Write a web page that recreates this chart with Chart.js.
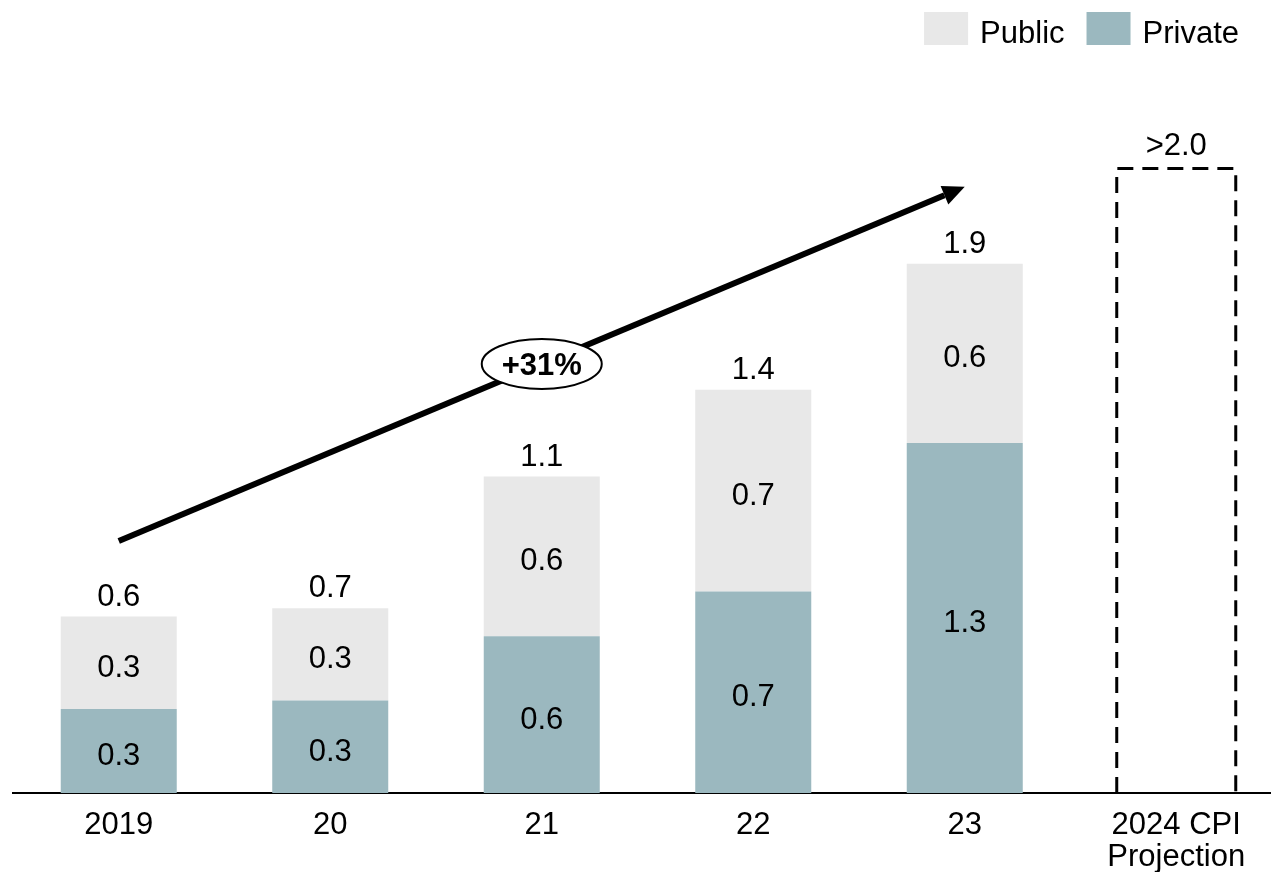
<!DOCTYPE html>
<html>
<head>
<meta charset="utf-8">
<script src="https://cdn.jsdelivr.net/npm/chart.js@4/dist/chart.umd.min.js"></script>
<style>
  body { margin: 0; background: #fff; overflow: hidden; }
  #wrap { width: 1271px; height: 872px; overflow: hidden; }
</style>
</head>
<body>
<div id="wrap"><canvas id="chart" width="1300" height="872"></canvas></div>
<script>
const categories = ['2019', '20', '21', '22', '23', ['2024 CPI', 'Projection']];
const privateValues = [0.30, 0.33, 0.56, 0.72, 1.25, null];
const publicValues = [0.33, 0.33, 0.57, 0.72, 0.64, null];
const projectionValues = [null, null, null, null, null, 2.23];
const projectionLabel = '>2.0';

// growth arrow: [category index, value] at each end
const growthLabel = '+31%';
const growthFrom = [0, 0.9];
const growthTo = [4, 2.165];

const FONT = '"Liberation Sans", Arial, sans-serif';
const PRIVATE_COLOR = '#9bb8bf';
const PUBLIC_COLOR = '#e8e8e8';

// Value labels, dashed projection box, growth arrow and legend
const overlayPlugin = {
  id: 'overlay',
  afterDatasetsDraw(chart) {
    const ctx = chart.ctx;
    const x = chart.scales.x;
    const y = chart.scales.y;
    const privMeta = chart.getDatasetMeta(0);
    const pubMeta = chart.getDatasetMeta(1);
    const projMeta = chart.getDatasetMeta(2);

    ctx.save();
    ctx.fillStyle = '#000';
    ctx.textAlign = 'center';
    ctx.textBaseline = 'alphabetic';
    ctx.font = '31px ' + FONT;

    // segment labels and totals
    categories.forEach((cat, i) => {
      if (privateValues[i] == null) return;
      const pe = privMeta.data[i];
      const ue = pubMeta.data[i];
      ctx.fillText(privateValues[i].toFixed(1), pe.x, (pe.y + pe.base) / 2 + 14);
      ctx.fillText(publicValues[i].toFixed(1), ue.x, (ue.y + ue.base) / 2 + 14);
      const total = privateValues[i] + publicValues[i];
      ctx.fillText(total.toFixed(1), ue.x, ue.y - 22 + 11);
    });

    // dashed projection box
    const be = projMeta.data[5];
    const left = be.x - be.width / 2 - 1.5;
    const right = be.x + be.width / 2 + 1.5;
    ctx.beginPath();
    ctx.setLineDash([16, 9]);
    ctx.lineWidth = 3;
    ctx.strokeStyle = '#000';
    ctx.moveTo(left, be.base);
    ctx.lineTo(left, be.y);
    ctx.lineTo(right, be.y);
    ctx.lineTo(right, be.base);
    ctx.stroke();
    ctx.setLineDash([]);
    ctx.fillText(projectionLabel, be.x, be.y - 25 + 11);

    // growth arrow
    const x0 = x.getPixelForValue(growthFrom[0]);
    const y0 = y.getPixelForValue(growthFrom[1]);
    const x1 = x.getPixelForValue(growthTo[0]);
    const y1 = y.getPixelForValue(growthTo[1]);
    const ang = Math.atan2(y1 - y0, x1 - x0);
    const headLen = 22, headHalf = 10;
    const bx = x1 - headLen * Math.cos(ang);
    const by = y1 - headLen * Math.sin(ang);
    ctx.beginPath();
    ctx.lineWidth = 6;
    ctx.lineCap = 'butt';
    ctx.moveTo(x0, y0);
    ctx.lineTo(bx, by);
    ctx.stroke();
    ctx.beginPath();
    ctx.moveTo(x1, y1);
    ctx.lineTo(bx - headHalf * Math.sin(ang), by + headHalf * Math.cos(ang));
    ctx.lineTo(bx + headHalf * Math.sin(ang), by - headHalf * Math.cos(ang));
    ctx.closePath();
    ctx.fill();

    // growth badge at the arrow midpoint
    const mx = (x0 + x1) / 2;
    const my = (y0 + y1) / 2;
    ctx.beginPath();
    ctx.ellipse(mx, my, 60, 25, 0, 0, Math.PI * 2);
    ctx.fillStyle = '#fff';
    ctx.fill();
    ctx.lineWidth = 2;
    ctx.stroke();
    ctx.fillStyle = '#000';
    ctx.font = 'bold 31px ' + FONT;
    ctx.fillText(growthLabel, mx, my + 11);

    // legend, right-aligned at the top
    ctx.font = '31px ' + FONT;
    ctx.textAlign = 'left';
    const items = [['Public', PUBLIC_COLOR], ['Private', PRIVATE_COLOR]];
    const boxW = 44, boxH = 33, textGap = 12, itemGap = 22;
    let total = 0;
    items.forEach(([label], k) => {
      total += boxW + textGap + ctx.measureText(label).width + (k ? 0 : itemGap);
    });
    let lx = 1239 - total;
    items.forEach(([label, color]) => {
      ctx.fillStyle = color;
      ctx.fillRect(lx, 12, boxW, boxH);
      ctx.fillStyle = '#000';
      ctx.fillText(label, lx + boxW + textGap, 43);
      lx += boxW + textGap + ctx.measureText(label).width + itemGap;
    });
    ctx.restore();
  }
};

const chart = new Chart(document.getElementById('chart'), {
  type: 'bar',
  data: {
    labels: categories,
    datasets: [
      { label: 'Private', data: privateValues, backgroundColor: PRIVATE_COLOR },
      { label: 'Public', data: publicValues, backgroundColor: PUBLIC_COLOR },
      { label: 'Projection', data: projectionValues, backgroundColor: 'rgba(255,255,255,0)' }
    ]
  },
  options: {
    responsive: false,
    animation: false,
    layout: { padding: { left: 13, right: 18, top: 65, bottom: 0 } },
    datasets: { bar: { categoryPercentage: 1, barPercentage: 0.5485 } },
    plugins: { legend: { display: false }, tooltip: { enabled: false } },
    scales: {
      x: {
        stacked: true,
        z: 1,
        grid: { display: false, drawTicks: false },
        border: { color: '#000', width: 2 },
        ticks: { color: '#000', padding: 16, font: { family: FONT, size: 31, lineHeight: 1.05 } },
        afterFit(scale) { scale.height = 79; }
      },
      y: { stacked: true, display: false, min: 0, max: 2.6 }
    }
  },
  plugins: [overlayPlugin]
});
</script>
</body>
</html>
